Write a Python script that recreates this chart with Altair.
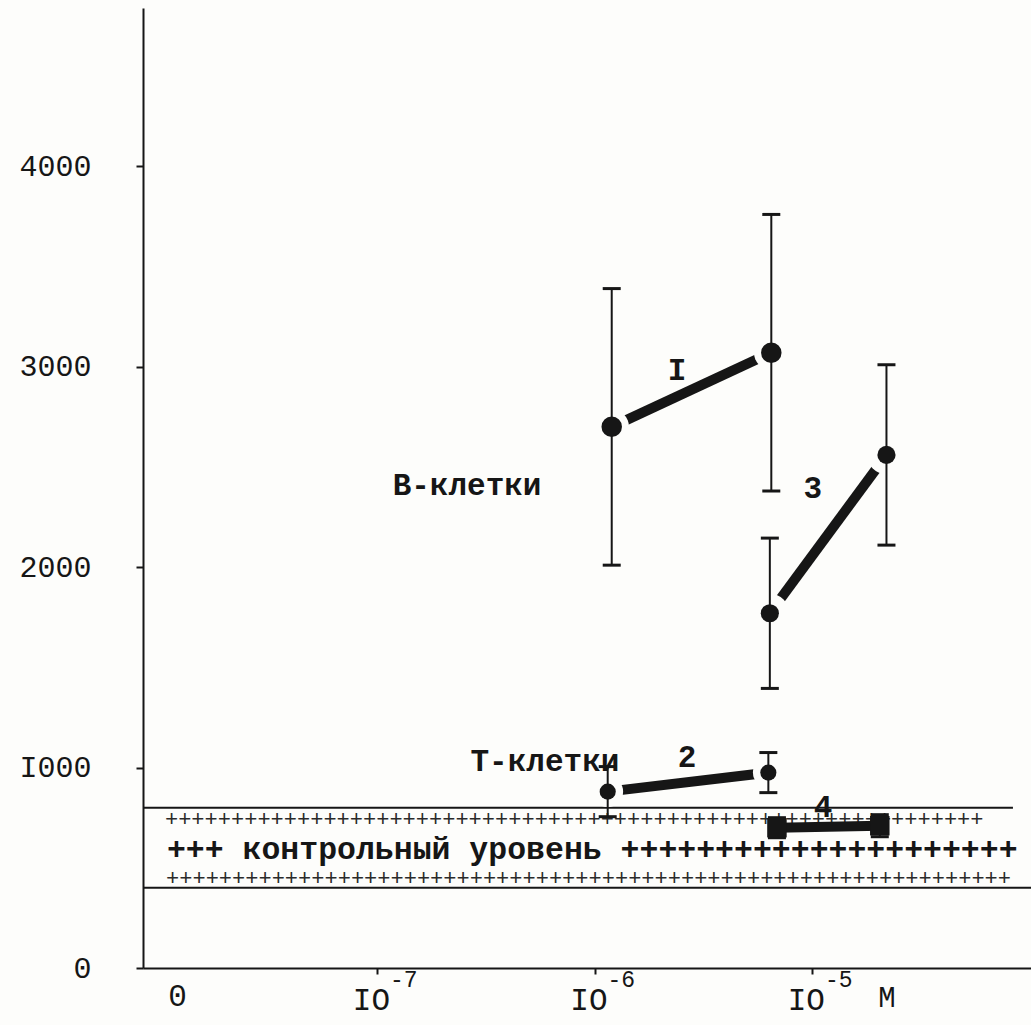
import altair as alt
import numpy as np
import pandas as pd

# Mean ± error for each curve at two concentrations (mol/L)
curve = ["1", "1", "2", "2", "3", "3", "4", "4"]
conc_m = [1.2e-6, 6.5e-6, 1.15e-6, 6.3e-6, 6.4e-6, 2.2e-5, 6.9e-6, 2.05e-5]
mean = [2700, 3070, 880, 975, 1770, 2560, 700, 710]
err = [690, 690, 125, 100, 375, 450, 50, 55]

# Control level band
control_low = 400
control_high = 800

# Axis ticks (x is log10(c) + 8, so 1e-7 -> 1, 1e-6 -> 2, 1e-5 -> 3)
y_ticks = [0, 1000, 2000, 3000, 4000]
x_decades = [1, 2, 3]
x_exponents = ["-7", "-6", "-5"]

# Curve labels and captions
note_text = ["I", "3", "2", "4", "В-клетки", "Т-клетки"]
note_pos = [2.379, 3.004, 2.425, 3.051, 1.414, 1.772]
note_val = [2978, 2389, 1047, 800, 2404, 1027]

X_MIN, X_MAX = -0.076, 4.007
Y_MIN, Y_MAX = 0, 4790
INK = "#161616"
TYPE = "Liberation Mono"

# marker style per curve: (shape, marker area, halo area or None)
marker_style = {
    "1": ("circle", 420, 1200),
    "2": ("circle", 260, 950),
    "3": ("circle", 330, 1500),
    "4": ("square", 380, None),
}

df = pd.DataFrame({"curve": curve, "conc": conc_m, "mean": mean, "err": err})
df["pos"] = np.log10(df["conc"]) + 8
df["lo"] = df["mean"] - df["err"]
df["hi"] = df["mean"] + df["err"]

xs = alt.Scale(domain=[X_MIN, X_MAX], nice=False, zero=False)
ys = alt.Scale(domain=[Y_MIN, Y_MAX], nice=False, zero=False)

x_enc = alt.X("pos:Q", scale=xs, axis=alt.Axis(
    values=x_decades, labels=False, title=None, grid=False,
    tickSize=6, tickWidth=2, tickColor=INK, domainColor=INK, domainWidth=2))
y_axis = alt.Axis(
    values=y_ticks, format="d", title=None, grid=False,
    labelExpr="datum.value == 1000 ? 'I000' : datum.label",
    labelFont=TYPE, labelFontSize=30, labelColor=INK, labelPadding=45,
    tickSize=7, tickWidth=2, tickColor=INK, domainColor=INK, domainWidth=2)

# Control band: two horizontal lines
band = pd.DataFrame({"v": [control_high, control_low],
                     "x0": [X_MIN, X_MIN], "x1": [3.924, X_MAX]})
band_layer = alt.Chart(band).mark_rule(color=INK, strokeWidth=2).encode(
    x=alt.X("x0:Q", scale=xs), x2="x1:Q",
    y=alt.Y("v:Q", scale=ys, axis=y_axis))

# Typed rows of plus signs filling the control band
rows_small = pd.DataFrame({"t": ["+" * 62, "+" * 64],
                           "pos": [0.025, 0.03], "v": [742, 447]})
rows_small_layer = alt.Chart(rows_small).mark_text(
    font=TYPE, fontSize=22, align="left", baseline="middle", color="#2a2a2a"
).encode(x=alt.X("pos:Q", scale=xs), y=alt.Y("v:Q", scale=ys), text="t:N")

row_mid = pd.DataFrame({"t": ["+++ контрольный уровень " + "+" * 21],
                        "pos": [0.034], "v": [588]})
row_mid_layer = alt.Chart(row_mid).mark_text(
    font=TYPE, fontSize=31.5, fontWeight="bold", align="left",
    baseline="middle", color=INK
).encode(x=alt.X("pos:Q", scale=xs), y=alt.Y("v:Q", scale=ys), text="t:N")

base = alt.Chart(df)
xy = dict(x=alt.X("pos:Q", scale=xs), y=alt.Y("mean:Q", scale=ys))

lines = base.mark_line(strokeWidth=10, strokeCap="butt", color=INK).encode(
    x=x_enc, y=alt.Y("mean:Q", scale=ys), detail="curve:N", order="pos:Q")

# White halo leaves a small gap between the thick line and each marker
halos = [
    base.transform_filter(alt.datum.curve == c).mark_point(
        filled=True, opacity=1, fill="#fdfdfb", strokeWidth=0,
        shape="circle", size=st[2]).encode(**xy)
    for c, st in marker_style.items() if st[2] is not None
]

bars = base.mark_rule(color=INK, strokeWidth=2).encode(
    x=alt.X("pos:Q", scale=xs), y=alt.Y("lo:Q", scale=ys), y2="hi:Q")

caps = base.transform_fold(["lo", "hi"], as_=["end", "val"]).mark_tick(
    orient="horizontal", size=18, thickness=3, color=INK, opacity=1).encode(
    x=alt.X("pos:Q", scale=xs), y=alt.Y("val:Q", scale=ys))

points = [
    base.transform_filter(alt.datum.curve == c).mark_point(
        filled=True, opacity=1, fill=INK, strokeWidth=0,
        shape=st[0], size=st[1]).encode(**xy)
    for c, st in marker_style.items()
]

notes = pd.DataFrame({"t": note_text, "pos": note_pos, "v": note_val})
notes_layer = alt.Chart(notes).mark_text(
    font=TYPE, fontSize=31, fontWeight="bold", align="center",
    baseline="middle", color=INK
).encode(x=alt.X("pos:Q", scale=xs), y=alt.Y("v:Q", scale=ys), text="t:N")

# X tick labels: "0", "IO" with exponent, unit "M"
xl = pd.DataFrame({"pos": x_decades, "base": ["IO"] * 3, "exp": x_exponents})
xl_base = alt.Chart(xl).mark_text(
    font=TYPE, fontSize=31, align="right", baseline="middle", color=INK, dx=13
).encode(x=alt.X("pos:Q", scale=xs), y=alt.value(993), text="base:N")
xl_exp = alt.Chart(xl).mark_text(
    font=TYPE, fontSize=23, align="left", baseline="middle", color=INK, dx=13
).encode(x=alt.X("pos:Q", scale=xs), y=alt.value(972), text="exp:N")

zero_lbl = pd.DataFrame({"pos": [0], "t": ["0"]})
xl_zero = alt.Chart(zero_lbl).mark_text(
    font=TYPE, fontSize=31, align="center", baseline="middle", color=INK, dx=18
).encode(x=alt.X("pos:Q", scale=xs), y=alt.value(989), text="t:N")

unit_lbl = pd.DataFrame({"pos": [3.345], "t": ["M"]})
xl_unit = alt.Chart(unit_lbl).mark_text(
    font=TYPE, fontSize=29, align="center", baseline="middle", color=INK
).encode(x=alt.X("pos:Q", scale=xs), y=alt.value(990), text="t:N")

chart = alt.layer(
    band_layer, rows_small_layer, row_mid_layer, lines, *halos, bars, caps,
    *points, notes_layer, xl_base, xl_exp, xl_zero, xl_unit
).properties(
    width=888, height=960,
    padding={"left": 143, "top": 8, "right": 0, "bottom": 57},
    autosize=alt.AutoSizeParams(type="none"),
    background="#fdfdfb",
).configure_view(stroke=None)

chart.save("out.html", embed_options={"renderer": "svg", "actions": False})
